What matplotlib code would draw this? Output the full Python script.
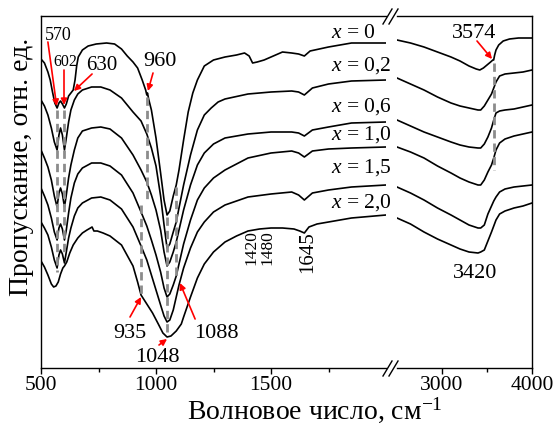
import numpy as np
import matplotlib
matplotlib.use('Agg')
import matplotlib.pyplot as plt
from matplotlib.lines import Line2D

plt.rcParams['font.family'] = ['Liberation Serif', 'DejaVu Serif']
plt.rcParams['mathtext.fontset'] = 'custom'
plt.rcParams['mathtext.rm'] = 'Liberation Serif'
plt.rcParams['mathtext.it'] = 'Liberation Serif:italic'
plt.rcParams['mathtext.bf'] = 'Liberation Serif:bold'

# ---------------- data (transmittance, arbitrary offset units; larger = lower on plot) -------------
comp_labels = ['0', '0,2', '0,6', '1,0', '1,5', '2,0']

# x = 0
wn1_x00 = [500,515,530,540,550,560,570,578,585,593,602,610,620,630,640,648,655,662,680,705,740,785,820,850,875,
           900,920,940,955,960,963,968,980,1000,1020,1035,1048,1060,1075,1088,1100,1120,1140,1160,1180,1210,1250,
           1300,1350,1385,1405,1420,1440,1470,1510,1550,1590,1620,1645,1670,1750,1850,2000]
t1_x00 = [59,63,72,80,92,103,108,103,101,104,108,104,96,93,90,80,66,57,50,46,44,43,44,49,56,
          62,68,80,90,95,93,99,110,138,173,200,215,211,196,185,170,140,112,93,80,66,60,
          57,55,53,56,63,62,60,56,52,53,54,56,51,47,43,43]
wn2_x00 = [2500,2650,2800,2950,3100,3200,3300,3380,3420,3460,3500,3540,3565,3574,3585,3600,3630,3680,3750,3850,4000]
t2_x00 = [40,43,47,52,57,61,66,69,70,68,65,62,60,60,55,50,45,41,39,38,38]

# x = 0.2
wn1_x02 = [500,515,530,545,558,570,578,585,593,602,610,620,630,645,660,680,720,760,800,850,900,935,960,980,1000,
           1020,1035,1048,1060,1075,1088,1100,1120,1150,1180,1210,1240,1270,1300,1400,1500,1590,1620,1645,1680,
           1750,1850,2000]
t1_x02 = [100,106,115,128,142,150,135,128,135,150,138,122,110,100,94,90,87,87,90,98,112,121,134,148,166,
          196,225,248,244,232,222,208,185,155,130,115,108,102,99,94,92,91,92,95,88,
          84,81,80]

# common grid for x = 0.6, 1.0, 1.5
wn1_grid = [500,515,530,545,558,570,578,585,593,602,610,620,630,645,660,680,720,760,800,850,900,935,960,980,1000,
            1020,1035,1048,1060,1075,1088,1100,1120,1150,1180,1210,1250,1300,1400,1500,1590,1620,1645,1680,1750,
            1850,2000]
t1_x06 = [150,158,167,180,196,207,193,188,194,207,195,178,165,150,138,131,128,127,129,138,155,170,182,195,210,
          230,252,266,262,252,242,230,210,185,165,153,144,138,134,132,132,133,136,130,127,
          123,122]
t1_x10 = [188,196,205,218,232,240,228,224,229,240,230,213,198,183,174,168,163,163,166,175,193,212,226,240,255,
          272,288,297,294,285,276,264,244,220,200,188,178,170,158,153,151,153,157,151,149,
          148,147]
t1_x15 = [222,228,235,247,260,268,255,250,254,263,252,238,228,216,208,203,198,197,200,209,227,246,260,275,290,
          305,316,322,320,310,297,285,268,248,232,222,212,205,197,194,192,195,200,193,190,
          187,185]

# x = 2.0
wn1_x20 = [500,515,530,545,555,565,575,585,595,602,612,625,640,660,680,700,715,722,730,745,770,800,850,900,920,
           935,960,985,1010,1030,1048,1065,1088,1110,1120,1150,1180,1210,1250,1300,1350,1400,1450,1500,1550,
           1600,1625,1645,1665,1700,1750,1850,2000]
t1_x20 = [261,267,275,284,287,286,282,274,268,266,262,253,245,238,233,230,228,227,231,231,233,236,245,266,282,
          295,304,313,324,333,337,336,331,324,317,297,278,264,252,242,236,231,229,228,228,
          229,231,233,227,224,222,218,215]

# high-wavenumber part, common grid for x = 0.2 ... 2.0
wn2_grid = [2500,2650,2800,2950,3100,3200,3300,3400,3430,3470,3510,3550,3575,3600,3640,3700,3800,3900,4000]
t2_x02 = [78,84,90,97,103,106,108,110,110,106,100,94,88,82,76,74,73,72,70]
t2_x06 = [120,126,132,137,142,145,147,148,148,144,137,128,120,113,111,110,109,107,105]
t2_x10 = [147,152,158,166,173,178,182,185,185,180,172,165,158,150,143,139,136,134,132]
t2_x15 = [187,193,200,208,215,220,225,228,228,225,214,206,201,197,192,189,187,186,185]
t2_x20 = [218,224,232,239,245,249,252,253,252,250,241,232,226,220,214,211,208,206,203]

low_series = [(wn1_x00, t1_x00), (wn1_x02, t1_x02), (wn1_grid, t1_x06),
              (wn1_grid, t1_x10), (wn1_grid, t1_x15), (wn1_x20, t1_x20)]
high_series = [(wn2_x00, t2_x00), (wn2_grid, t2_x02), (wn2_grid, t2_x06),
               (wn2_grid, t2_x10), (wn2_grid, t2_x15), (wn2_grid, t2_x20)]
label_levels = [33, 66, 107, 135, 168, 203]

# band markers (gray dashed): wavenumber, from, to
band_low = [(570, 110, 272), (602, 110, 255), (960, 97, 200), (935, 205, 297),
            (1048, 217, 335), (1088, 187, 277)]
band_high = [(3574, 63, 170)]

# ---------------- figure ----------------
W, H = 559, 430
fig = plt.figure(figsize=(W / 100, H / 100), dpi=100)
ax1 = fig.add_axes([41 / W, 1 - 368 / H, (386 - 41) / W, (368 - 16) / H])
ax2 = fig.add_axes([397 / W, 1 - 368 / H, (532 - 397) / W, (368 - 16) / H])

for ax in (ax1, ax2):
    ax.set_ylim(368, 16)
    ax.set_yticks([])
    for s in ax.spines.values():
        s.set_linewidth(1.0)
    ax.tick_params(axis='x', which='major', direction='out', length=4.5, width=1.0,
                   labelsize=15.5, pad=1.5, top=False)
    ax.tick_params(axis='x', which='minor', direction='out', length=3, width=1.0, top=False)

ax1.set_xlim(500, 2000)
ax2.set_xlim(2500, 4000)
ax1.spines['right'].set_visible(False)
ax2.spines['left'].set_visible(False)
ax1.set_xticks([500, 1000, 1500])
ax1.set_xticks([750, 1250, 1750], minor=True)
ax2.set_xticks([3000, 4000])
ax2.set_xticks([3500], minor=True)

for wn, t in low_series:
    ax1.plot(wn, t, color='black', lw=1.2, zorder=2, solid_joinstyle='round')
for wn, t in high_series:
    ax2.plot(wn, t, color='black', lw=1.2, zorder=2, solid_joinstyle='round')

dash = dict(color='#8c8c8c', lw=2.0, linestyle=(0, (3, 1.8)), zorder=3)
for w, a, b in band_low:
    ax1.plot([w, w], [a, b], **dash)
for w, a, b in band_high:
    ax2.plot([w, w], [a, b], **dash)

for lab, lev in zip(comp_labels, label_levels):
    ax1.text(1762, lev, '$x$ = ' + lab, fontsize=15.5, ha='left', va='center')

arr = dict(arrowstyle='-|>', color='red', lw=1.2, mutation_scale=9, shrinkA=0, shrinkB=0)

def note(ax, txt, tx, ty, fs, tail=None, head=None, **kw):
    ax.text(tx, ty, txt, fontsize=fs, ha='center', va='center', **kw)
    if tail is not None:
        ax.annotate('', xy=head, xytext=tail, arrowprops=arr)

note(ax1, '570', 574, 35, 13, (530, 42), (568, 106))
note(ax1, '602', 604, 62, 11.5, (600, 70), (600, 105))
note(ax1, '630', 765, 65, 15, (722, 74), (643, 91))
note(ax1, '960', 1017, 62, 16, (987, 73), (965, 91))
note(ax1, '935', 887, 333, 16, (887, 317), (935, 297))
note(ax1, '1048', 1004, 358, 16, (1013, 345), (1048, 339))
note(ax1, '1088', 1261, 333, 16, (1170, 319), (1104, 283))
note(ax1, '1420', 1414, 248, 12.5, rotation=90)
note(ax1, '1480', 1484, 248, 12.5, rotation=90)
note(ax1, '1645', 1660, 252, 15, rotation=90)
note(ax2, '3574', 3356, 34, 16, (3389, 41), (3556, 59))
note(ax2, '3420', 3370, 273, 16)

# axis break marks
for (x0, y0, x1, y1) in [(383, 24, 392, 9), (389, 24, 398, 9),
                         (383, 376, 392, 361), (389, 376, 398, 361)]:
    fig.add_artist(Line2D([x0 / W, x1 / W], [1 - y0 / H, 1 - y1 / H],
                          transform=fig.transFigure, color='black', lw=1.0))

fig.text(315 / W, 1 - 410 / H, 'Волновое число, см$^{-1}$', ha='center', va='center', fontsize=20)
fig.text(21 / W, 1 - 167 / H, 'Пропускание, отн. ед.', rotation=90, ha='center', va='center', fontsize=20)

fig.savefig('out.png', dpi=100)
